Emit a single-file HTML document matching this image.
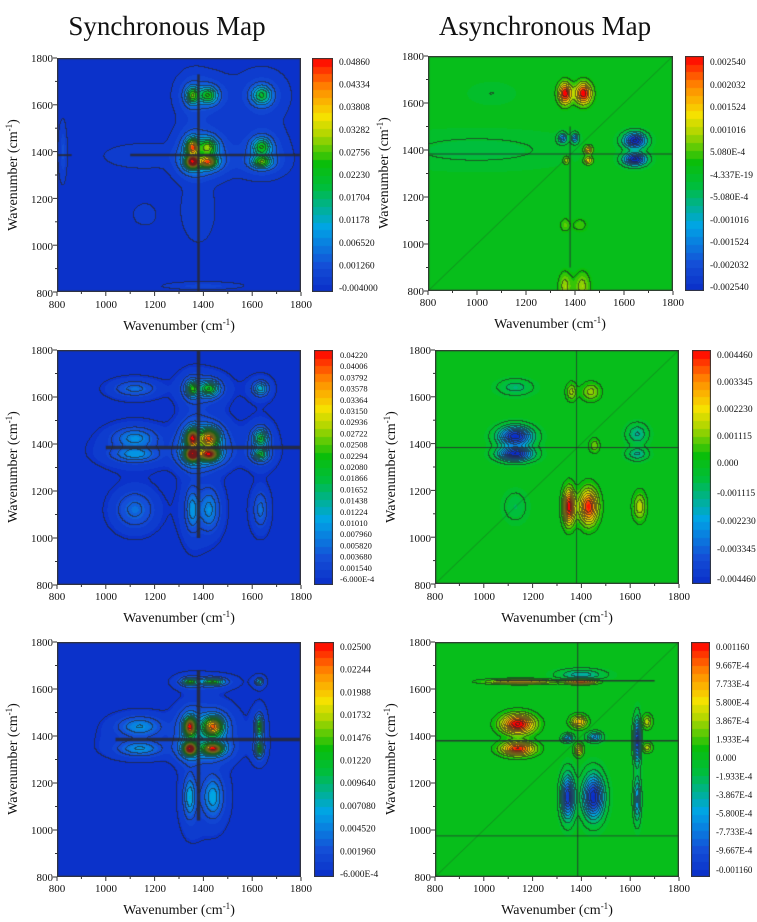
<!DOCTYPE html>
<html><head><meta charset="utf-8">
<style>
body{margin:0;background:#fff;}
#wrap{position:relative;width:757px;height:922px;overflow:hidden;background:#fff;}
canvas{position:absolute;}
svg{position:absolute;left:0;top:0;}
text{font-family:"Liberation Serif",serif;fill:#111;}
.t{font-size:11px}
.c{font-size:9.5px}
.ax{font-size:14px}
.title{font-size:27px}
</style></head><body>
<div id="wrap">
<svg width="757" height="922" id="s">
<text class="title" x="167" y="35" text-anchor="middle">Synchronous Map</text>
<text class="title" x="545" y="35" text-anchor="middle">Asynchronous Map</text>

<!-- P1 -->
<g transform="translate(57,58)">
<g class="t" text-anchor="end"><text x="-4" y="239">800</text><text x="-4" y="192">1000</text><text x="-4" y="145">1200</text><text x="-4" y="98">1400</text><text x="-4" y="51">1600</text><text x="-4" y="4">1800</text></g>
<g class="t" text-anchor="middle"><text x="0" y="250">800</text><text x="49" y="250">1000</text><text x="98" y="250">1200</text><text x="146" y="250">1400</text><text x="195" y="250">1600</text><text x="244" y="250">1800</text></g>
<text class="ax" x="122" y="272" text-anchor="middle">Wavenumber (cm<tspan dy="-5" font-size="9">-1</tspan><tspan dy="5">)</tspan></text>
<text class="ax" transform="translate(-40,117) rotate(-90)" text-anchor="middle">Wavenumber (cm<tspan dy="-5" font-size="9">-1</tspan><tspan dy="5">)</tspan></text>
</g>
<g class="c" transform="translate(339,0)"><text y="65">0.04860</text><text y="87.6">0.04334</text><text y="110.2">0.03808</text><text y="132.8">0.03282</text><text y="155.4">0.02756</text><text y="178">0.02230</text><text y="200.6">0.01704</text><text y="223.2">0.01178</text><text y="245.8">0.006520</text><text y="268.4">0.001260</text><text y="291">-0.004000</text></g>

<!-- P2 -->
<g transform="translate(428,56)">
<g class="t" text-anchor="end"><text x="-4" y="239">800</text><text x="-4" y="192">1000</text><text x="-4" y="145">1200</text><text x="-4" y="98">1400</text><text x="-4" y="51">1600</text><text x="-4" y="4">1800</text></g>
<g class="t" text-anchor="middle"><text x="0" y="250">800</text><text x="49" y="250">1000</text><text x="98" y="250">1200</text><text x="147" y="250">1400</text><text x="196" y="250">1600</text><text x="245" y="250">1800</text></g>
<text class="ax" x="122" y="272" text-anchor="middle">Wavenumber (cm<tspan dy="-5" font-size="9">-1</tspan><tspan dy="5">)</tspan></text>
<text class="ax" transform="translate(-40,117) rotate(-90)" text-anchor="middle">Wavenumber (cm<tspan dy="-5" font-size="9">-1</tspan><tspan dy="5">)</tspan></text>
</g>
<g class="c" transform="translate(710,0)"><text y="65">0.002540</text><text y="88">0.002032</text><text y="110">0.001524</text><text y="133">0.001016</text><text y="155">5.080E-4</text><text y="178">-4.337E-19</text><text y="200">-5.080E-4</text><text y="223">-0.001016</text><text y="245">-0.001524</text><text y="268">-0.002032</text><text y="290">-0.002540</text></g>

<!-- P3 -->
<g transform="translate(57,350)">
<g class="t" text-anchor="end"><text x="-4" y="239">800</text><text x="-4" y="192">1000</text><text x="-4" y="145">1200</text><text x="-4" y="98">1400</text><text x="-4" y="51">1600</text><text x="-4" y="4">1800</text></g>
<g class="t" text-anchor="middle"><text x="0" y="250">800</text><text x="49" y="250">1000</text><text x="98" y="250">1200</text><text x="146" y="250">1400</text><text x="195" y="250">1600</text><text x="244" y="250">1800</text></g>
<text class="ax" x="122" y="272" text-anchor="middle">Wavenumber (cm<tspan dy="-5" font-size="9">-1</tspan><tspan dy="5">)</tspan></text>
<text class="ax" transform="translate(-40,117) rotate(-90)" text-anchor="middle">Wavenumber (cm<tspan dy="-5" font-size="9">-1</tspan><tspan dy="5">)</tspan></text>
</g>
<g class="c" transform="translate(340,0)" style="font-size:8.5px"><text y="358">0.04220</text><text y="369.2">0.04006</text><text y="380.4">0.03792</text><text y="391.6">0.03578</text><text y="402.8">0.03364</text><text y="414">0.03150</text><text y="425.2">0.02936</text><text y="436.4">0.02722</text><text y="447.6">0.02508</text><text y="458.8">0.02294</text><text y="470">0.02080</text><text y="481.2">0.01866</text><text y="492.4">0.01652</text><text y="503.6">0.01438</text><text y="514.8">0.01224</text><text y="526">0.01010</text><text y="537.2">0.007960</text><text y="548.4">0.005820</text><text y="559.6">0.003680</text><text y="570.8">0.001540</text><text y="582">-6.000E-4</text></g>

<!-- P4 -->
<g transform="translate(435,350)">
<g class="t" text-anchor="end"><text x="-4" y="239">800</text><text x="-4" y="192">1000</text><text x="-4" y="145">1200</text><text x="-4" y="98">1400</text><text x="-4" y="51">1600</text><text x="-4" y="4">1800</text></g>
<g class="t" text-anchor="middle"><text x="0" y="250">800</text><text x="49" y="250">1000</text><text x="98" y="250">1200</text><text x="146" y="250">1400</text><text x="195" y="250">1600</text><text x="244" y="250">1800</text></g>
<text class="ax" x="122" y="272" text-anchor="middle">Wavenumber (cm<tspan dy="-5" font-size="9">-1</tspan><tspan dy="5">)</tspan></text>
<text class="ax" transform="translate(-40,117) rotate(-90)" text-anchor="middle">Wavenumber (cm<tspan dy="-5" font-size="9">-1</tspan><tspan dy="5">)</tspan></text>
</g>
<g class="c" transform="translate(717,0)"><text y="358">0.004460</text><text y="385">0.003345</text><text y="412">0.002230</text><text y="439">0.001115</text><text y="466">0.000</text><text y="496">-0.001115</text><text y="524">-0.002230</text><text y="552">-0.003345</text><text y="582">-0.004460</text></g>

<!-- P5 -->
<g transform="translate(57,642)">
<g class="t" text-anchor="end"><text x="-4" y="239">800</text><text x="-4" y="192">1000</text><text x="-4" y="145">1200</text><text x="-4" y="98">1400</text><text x="-4" y="51">1600</text><text x="-4" y="4">1800</text></g>
<g class="t" text-anchor="middle"><text x="0" y="250">800</text><text x="49" y="250">1000</text><text x="98" y="250">1200</text><text x="146" y="250">1400</text><text x="195" y="250">1600</text><text x="244" y="250">1800</text></g>
<text class="ax" x="122" y="272" text-anchor="middle">Wavenumber (cm<tspan dy="-5" font-size="9">-1</tspan><tspan dy="5">)</tspan></text>
<text class="ax" transform="translate(-40,117) rotate(-90)" text-anchor="middle">Wavenumber (cm<tspan dy="-5" font-size="9">-1</tspan><tspan dy="5">)</tspan></text>
</g>
<g class="c" transform="translate(340,0)"><text y="650">0.02500</text><text y="672.7">0.02244</text><text y="695.4">0.01988</text><text y="718.1">0.01732</text><text y="740.8">0.01476</text><text y="763.5">0.01220</text><text y="786.2">0.009640</text><text y="808.9">0.007080</text><text y="831.6">0.004520</text><text y="854.3">0.001960</text><text y="877">-6.000E-4</text></g>

<!-- P6 -->
<g transform="translate(435,642)">
<g class="t" text-anchor="end"><text x="-4" y="239">800</text><text x="-4" y="192">1000</text><text x="-4" y="145">1200</text><text x="-4" y="98">1400</text><text x="-4" y="51">1600</text><text x="-4" y="4">1800</text></g>
<g class="t" text-anchor="middle"><text x="0" y="250">800</text><text x="49" y="250">1000</text><text x="98" y="250">1200</text><text x="146" y="250">1400</text><text x="195" y="250">1600</text><text x="244" y="250">1800</text></g>
<text class="ax" x="122" y="272" text-anchor="middle">Wavenumber (cm<tspan dy="-5" font-size="9">-1</tspan><tspan dy="5">)</tspan></text>
<text class="ax" transform="translate(-40,117) rotate(-90)" text-anchor="middle">Wavenumber (cm<tspan dy="-5" font-size="9">-1</tspan><tspan dy="5">)</tspan></text>
</g>
<g class="c" transform="translate(716,0)" style="font-size:9px"><text y="650">0.001160</text><text y="668.5">9.667E-4</text><text y="687">7.733E-4</text><text y="705.5">5.800E-4</text><text y="724">3.867E-4</text><text y="742.5">1.933E-4</text><text y="761">0.000</text><text y="779.5">-1.933E-4</text><text y="798">-3.867E-4</text><text y="816.5">-5.800E-4</text><text y="835">-7.733E-4</text><text y="853.5">-9.667E-4</text><text y="873">-0.001160</text></g>
<g id="ticks"></g>
</svg>
</div>
<script>
var stops=[[0,[10,45,200]],[0.12,[20,80,215]],[0.28,[0,165,230]],[0.45,[0,190,60]],[0.55,[10,190,10]],[0.68,[180,215,0]],[0.75,[245,225,0]],[0.87,[255,140,0]],[1,[255,0,0]]];
function cmap(t){t=Math.max(0,Math.min(1,t));for(var i=1;i<stops.length;i++){if(t<=stops[i][0]){var a=stops[i-1],b=stops[i],f=(t-a[0])/(b[0]-a[0]);return [0,1,2].map(function(k){return Math.round(a[1][k]+(b[1][k]-a[1][k])*f)});}}return stops[stops.length-1][1];}
var P=[
{x:57,y:58,w:244,h:234,cb:[312,21],mn:-0.004,mx:0.0486,bg:-0.003,nc:12,halo:1,
 g:[[1355,1355,0.046,17,17],[1355,1420,0.034,17,24],[1420,1355,0.034,24,17],[1420,1420,0.024,26,26],[1355,1640,0.024,17,24],[1640,1355,0.024,26,17],[1420,1640,0.022,26,24],[1640,1420,0.022,26,26],[1640,1640,0.02,28,28],[1380,1150,0.002,40,80],[1150,1380,0.002,90,30],[1160,1130,0.0015,30,30],[825,1400,0.004,8,60],[1400,825,0.003,80,8]],
 lines:[[1380,800,1380,1730,2.5],[1100,1385,1800,1385,2.5],[800,1385,860,1385,2]]},
{x:428,y:56,w:245,h:235,cb:[685,19],mn:-0.00254,mx:0.00254,bg:0.00005,nc:12,async:1,
 g:[[1360,1640,0.0027,18,30],[1435,1640,0.0027,22,30],[1645,1440,-0.0028,30,22],[1645,1360,-0.0028,30,18],[1350,1450,-0.0016,12,14],[1400,1450,-0.0015,10,14],[1455,1400,0.0017,12,12],[1455,1355,0.0014,12,12],[1365,1355,0.0009,9,12],[1360,820,0.0008,18,40],[1430,820,0.0008,22,40],[1360,1080,0.0005,14,20],[1420,1080,0.0004,22,20],[1000,1400,-0.0003,250,50],[1060,1640,-0.0002,60,30]],
 lines:[[800,1383,1800,1383,1.2],[1380,900,1380,1500,1]]},
{x:57,y:350,w:244,h:235,cb:[314,19],mn:-0.0006,mx:0.0422,bg:-0.0004,nc:16,halo:1,
 g:[[1355,1355,0.04,17,17],[1355,1425,0.032,17,25],[1425,1355,0.032,25,17],[1425,1425,0.03,27,27],[1120,1425,0.008,55,28],[1120,1355,0.008,55,20],[1355,1120,0.008,17,55],[1425,1120,0.008,27,55],[1635,1425,0.016,20,26],[1635,1355,0.015,20,18],[1355,1635,0.018,17,22],[1425,1635,0.018,27,22],[1120,1635,0.006,55,22],[1635,1635,0.011,20,20],[1120,1120,0.006,50,50],[1635,1120,0.006,20,50]],
 lines:[[1380,1000,1380,1800,3.5],[1000,1385,1800,1385,3.5]]},
{x:435,y:350,w:244,h:234,cb:[692,19],mn:-0.00446,mx:0.00446,bg:0.00008,nc:18,async:1,
 g:[[1130,1430,-0.0046,45,28],[1130,1355,-0.0046,45,20],[1350,1130,0.0046,16,50],[1430,1130,0.0042,26,50],[1640,1130,0.0016,18,40],[1630,1440,-0.0013,28,28],[1630,1355,-0.0013,28,18],[1130,1640,-0.001,45,22],[1360,1620,0.0014,14,25],[1440,1620,0.0014,26,25],[1455,1390,0.0011,14,20],[1130,1130,-0.0007,30,40]],
 lines:[[800,1383,1800,1383,1],[1380,800,1380,1800,0.8]]},
{x:57,y:642,w:244,h:235,cb:[314,20],mn:-0.0006,mx:0.025,bg:-0.0004,nc:14,halo:1,
 g:[[1345,1345,0.024,16,16],[1345,1440,0.02,16,26],[1440,1345,0.02,26,16],[1440,1440,0.019,28,28],[1140,1440,0.005,55,26],[1140,1345,0.005,55,20],[1345,1140,0.006,16,55],[1440,1140,0.006,26,55],[1630,1440,0.011,10,28],[1630,1345,0.011,10,20],[1345,1630,0.011,20,10],[1440,1630,0.011,30,10],[1630,1630,0.007,10,10]],
 lines:[[1380,1040,1380,1680,3.5],[1040,1385,1800,1385,3.5]]},
{x:435,y:642,w:244,h:235,cb:[691,19],mn:-0.00116,mx:0.00116,bg:0.00002,nc:18,async:1,
 g:[[1140,1450,0.00125,45,28],[1140,1345,0.0011,45,20],[1345,1140,-0.0011,18,60],[1450,1140,-0.0012,28,60],[1630,1380,-0.001,10,60],[1630,1130,-0.0006,10,60],[1390,1460,0.0007,22,18],[1390,1340,0.0006,12,18],[1345,1390,-0.0006,15,12],[1455,1395,-0.0006,20,14],[1150,1630,0.0007,90,7],[1400,1630,0.001,40,7],[1400,1660,-0.0004,60,15],[1670,1460,0.0004,14,20],[1670,1350,0.0004,14,14]],
 lines:[[800,1380,1800,1380,1.5],[1385,800,1385,1800,1],[1050,1635,1700,1635,1.5],[800,975,1800,975,0.8]]}
];
P.forEach(function(p){if(p.halo){var h=[];p.g.forEach(function(q){h.push([q[0],q[1],q[2]*0.2,q[3]*2.4,q[4]*2.4]);});p.g=p.g.concat(h);}});
var wrap=document.getElementById('wrap');
var tk=document.getElementById('ticks'),tp='';
P.forEach(function(p){
 var c=document.createElement('canvas');c.width=p.w;c.height=p.h;c.style.left=p.x+'px';c.style.top=p.y+'px';wrap.insertBefore(c,wrap.firstChild);
 var ctx=c.getContext('2d'),im=ctx.createImageData(p.w,p.h),T=[];
 for(var j=0;j<p.h;j++)for(var i=0;i<p.w;i++){
  var wx=800+1000*(i+0.5)/p.w,wy=1800-1000*(j+0.5)/p.h,v=p.bg;
  for(var k=0;k<p.g.length;k++){var q=p.g[k],dx=(wx-q[0])/q[3],dy=(wy-q[1])/q[4];v+=q[2]*Math.exp(-0.5*(dx*dx+dy*dy));}
  T[j*p.w+i]=(v-p.mn)/(p.mx-p.mn);}
 var off=p.async?0.35:0.6;
 for(var j=0;j<p.h;j++)for(var i=0;i<p.w;i++){
  var t=T[j*p.w+i],tq=(Math.floor(t*30)+0.5)/30,col=cmap(tq),L=Math.floor(t*p.nc+off),e=false;
  if(i+1<p.w&&Math.floor(T[j*p.w+i+1]*p.nc+off)!=L)e=true;
  if(j+1<p.h&&Math.floor(T[(j+1)*p.w+i]*p.nc+off)!=L)e=true;
  if(e)col=[col[0]*0.35+25,col[1]*0.35+25,col[2]*0.35+25];
  var o=4*(j*p.w+i);im.data[o]=col[0];im.data[o+1]=col[1];im.data[o+2]=col[2];im.data[o+3]=255;}
 ctx.putImageData(im,0,0);
 function X(w){return (w-800)/1000*p.w}function Y(w){return (1800-w)/1000*p.h}
 ctx.strokeStyle='rgba(40,40,50,0.85)';
 p.lines.forEach(function(l){ctx.lineWidth=l[4];ctx.beginPath();ctx.moveTo(X(l[0]),Y(l[1]));ctx.lineTo(X(l[2]),Y(l[3]));ctx.stroke();});
 if(p.async){ctx.strokeStyle='rgba(40,60,40,0.6)';ctx.lineWidth=0.6;ctx.beginPath();ctx.moveTo(0,p.h);ctx.lineTo(p.w,0);ctx.stroke();}
 ctx.strokeStyle='#333';ctx.lineWidth=1.5;ctx.strokeRect(0.5,0.5,p.w-1,p.h-1);
 var cb=document.createElement('canvas');cb.width=p.cb[1];cb.height=p.h;cb.style.left=p.cb[0]+'px';cb.style.top=p.y+'px';wrap.insertBefore(cb,wrap.firstChild);
 var cx=cb.getContext('2d'),n=30;
 for(var s=0;s<n;s++){var col=cmap((s+0.5)/n);cx.fillStyle='rgb('+col+')';var y0=p.h*(1-(s+1)/n);cx.fillRect(0,Math.floor(y0),p.cb[1],Math.ceil(p.h/n)+1);}
 cx.strokeStyle='#333';cx.lineWidth=1;cx.strokeRect(0.5,0.5,p.cb[1]-1,p.h-1);
 for(var m=0;m<=10;m++){var L=m%2?2:4,xx=p.x+m*p.w/10,yy=p.y+m*p.h/10;
  tp+='<line x1="'+xx+'" y1="'+(p.y+p.h)+'" x2="'+xx+'" y2="'+(p.y+p.h+L)+'" stroke="#333"/>';
  tp+='<line x1="'+p.x+'" y1="'+yy+'" x2="'+(p.x-L)+'" y2="'+yy+'" stroke="#333"/>';}
});
tk.innerHTML=tp;
</script>
</body></html>
